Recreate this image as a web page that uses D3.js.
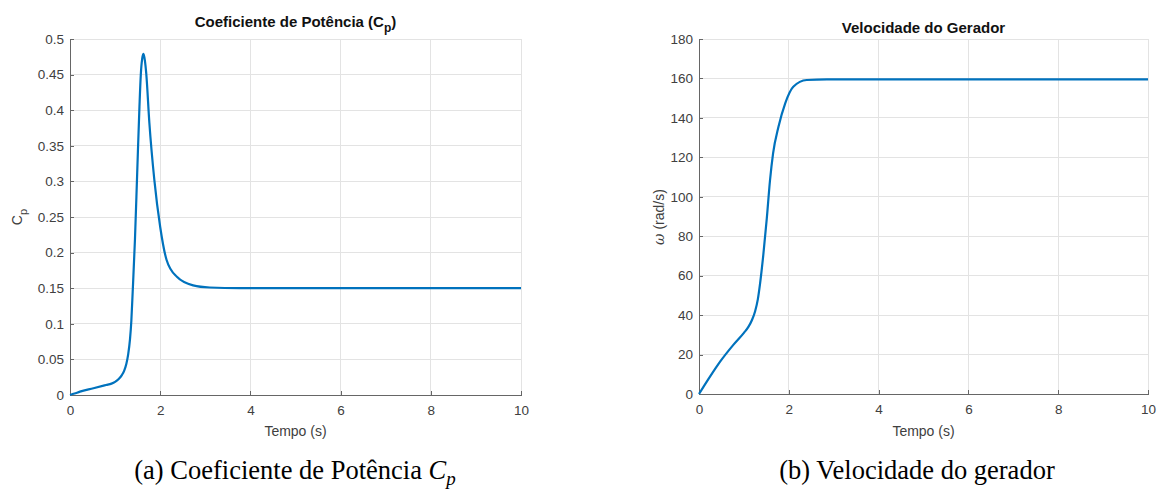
<!DOCTYPE html>
<html><head><meta charset="utf-8">
<script src="https://cdn.jsdelivr.net/npm/d3@7"></script>
<style>
body{margin:0;background:#fff;}
svg text{font-family:"Liberation Sans",Arial,Helvetica,sans-serif;}
</style></head>
<body><svg id="c" width="1159" height="491"></svg>
<script>
// Chart (a): power coefficient Cp vs time
const cpTime  = [0,0.1,0.22,0.52,0.8,0.92,1.0,1.08,1.15,1.2,1.25,1.29,1.33,1.36,1.39,1.44,1.49,1.54,1.57,1.6,1.63,1.66,1.69,1.76,1.87,2.0,2.14,2.37,2.73,3.1,3.76,5,7,10];
const cpValue = [0,0.002,0.0047,0.0094,0.014,0.016,0.0185,0.0225,0.028,0.034,0.044,0.057,0.078,0.104,0.145,0.218,0.312,0.405,0.45,0.472,0.479,0.47,0.452,0.382,0.302,0.236,0.19,0.166,0.154,0.151,0.150,0.150,0.150,0.150];
// Chart (b): generator speed vs time
const wTime  = [0,0.245,0.47,0.76,1.0,1.1,1.18,1.25,1.31,1.36,1.43,1.51,1.58,1.65,1.77,1.92,2.1,2.4,2.85,4,7,10];
const wValue = [0,8.8,16.4,24.8,31,34,37.5,42,48,56,70,89,108,122,135.5,147.4,155.8,159.2,159.5,159.5,159.5,159.5];

const xTicks = [0,2,4,6,8,10];
const cpTicks = [0,0.05,0.1,0.15,0.2,0.25,0.3,0.35,0.4,0.45,0.5];
const wTicks = [0,20,40,60,80,100,120,140,160,180];

const svg = d3.select("#c");

function panel(o){
  const g = svg.append("g");
  const x = d3.scaleLinear().domain([0,10]).range([o.x0,o.x1]);
  const y = d3.scaleLinear().domain(o.ydom).range([o.y1,o.y0]);
  g.selectAll(".gx").data(xTicks).join("line")
    .attr("x1",d=>x(d)).attr("x2",d=>x(d)).attr("y1",o.y0).attr("y2",o.y1)
    .attr("stroke","#e3e3e3").attr("stroke-width",1).attr("shape-rendering","crispEdges");
  g.selectAll(".gy").data(o.yticks).join("line")
    .attr("y1",d=>y(d)).attr("y2",d=>y(d)).attr("x1",o.x0).attr("x2",o.x1)
    .attr("stroke","#e3e3e3").attr("stroke-width",1).attr("shape-rendering","crispEdges");
  const xa = g.append("g").attr("transform",`translate(0,${o.y1})`)
    .call(d3.axisBottom(x).tickValues(xTicks).tickSize(-4).tickPadding(10).tickFormat(d3.format("d")));
  const ya = g.append("g").attr("transform",`translate(${o.x0},0)`)
    .call(d3.axisLeft(y).tickValues(o.yticks).tickSize(-4).tickPadding(6).tickFormat(o.fmt));
  [xa,ya].forEach(a=>{
    a.select(".domain").attr("stroke","#666").attr("shape-rendering","crispEdges");
    a.selectAll(".tick line").attr("stroke","#666").attr("shape-rendering","crispEdges");
    a.selectAll(".tick text").attr("fill","#404040").style("font-size","13.5px")
      .style("font-family",'"Liberation Sans",Arial,sans-serif');
  });
  const line = d3.line().x(d=>x(d[0])).y(d=>y(d[1])).curve(d3.curveMonotoneX);
  g.append("path").datum(o.t.map((t,i)=>[t,o.v[i]]))
    .attr("d",line).attr("fill","none").attr("stroke","#0072BD").attr("stroke-width",2.2)
    .attr("stroke-linejoin","round");
  g.append("text").attr("x",(o.x0+o.x1)/2).attr("y",436).attr("text-anchor","middle")
    .attr("fill","#404040").style("font-size","14px").text("Tempo (s)");
  return {x,y,g};
}

const fmtCp = d => d===0 ? "0" : String(+d.toFixed(2));
panel({x0:70,x1:521,y0:39,y1:395,ydom:[0,0.5],yticks:cpTicks,fmt:fmtCp,t:cpTime,v:cpValue});
panel({x0:699,x1:1148,y0:39,y1:394,ydom:[0,180],yticks:wTicks,fmt:d3.format("d"),t:wTime,v:wValue});

const t1 = svg.append("text").attr("x",295.5).attr("y",27).attr("text-anchor","middle")
  .attr("font-weight","bold").attr("fill","#111").style("font-size","15px");
t1.append("tspan").text("Coeficiente de Potência (C");
t1.append("tspan").attr("dy",5).style("font-size","12px").text("p");
t1.append("tspan").attr("dy",-5).text(")");
svg.append("text").attr("x",923.5).attr("y",33).attr("text-anchor","middle")
  .attr("font-weight","bold").attr("fill","#111").style("font-size","15px").text("Velocidade do Gerador");

const yl1 = svg.append("text").attr("transform","translate(22,217) rotate(-90)").attr("text-anchor","middle")
  .attr("fill","#404040").style("font-size","14px");
yl1.append("tspan").text("C");
yl1.append("tspan").attr("dy",5).style("font-size","11px").text("p");
const yl2 = svg.append("text").attr("transform","translate(664,217) rotate(-90)").attr("text-anchor","middle")
  .attr("fill","#404040").style("font-size","14px");
yl2.append("tspan").style("font-style","italic").style("font-family",'"DejaVu Serif",serif').text("ω");
yl2.append("tspan").text(" (rad/s)");

const c1 = svg.append("text").attr("x",295).attr("y",479).attr("text-anchor","middle")
  .style("font-family",'"Liberation Serif","Times New Roman",serif').style("font-size","26.5px").attr("fill","#000");
c1.append("tspan").text("(a) Coeficiente de Potência ");
c1.append("tspan").style("font-style","italic").text("C");
c1.append("tspan").style("font-style","italic").attr("dy",6).style("font-size","19px").text("p");
svg.append("text").attr("x",917).attr("y",479).attr("text-anchor","middle")
  .style("font-family",'"Liberation Serif","Times New Roman",serif').style("font-size","26.5px").attr("fill","#000")
  .text("(b) Velocidade do gerador");
</script></body></html>
